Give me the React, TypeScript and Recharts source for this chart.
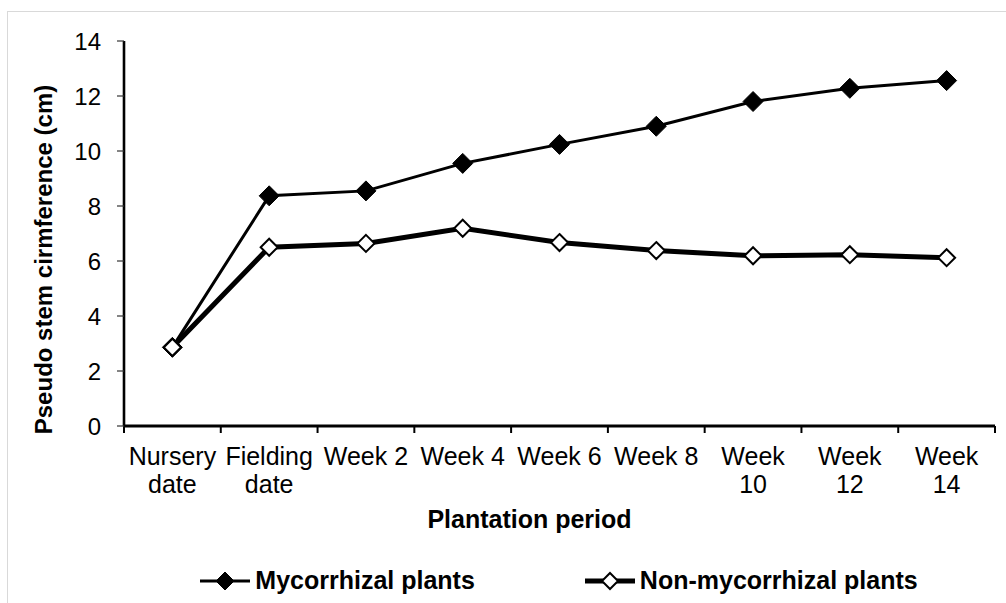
import React from "react";
import { ComposedChart, Line, XAxis, YAxis } from "recharts";

const categories = [
  "Nursery\ndate",
  "Fielding\ndate",
  "Week 2",
  "Week 4",
  "Week 6",
  "Week 8",
  "Week\n10",
  "Week\n12",
  "Week\n14",
];
const mycorrhizal = [2.86, 8.37, 8.55, 9.55, 10.24, 10.9, 11.8, 12.28, 12.56];
const nonMycorrhizal = [2.86, 6.5, 6.64, 7.19, 6.67, 6.38, 6.19, 6.23, 6.12];
const yTicks = [0, 2, 4, 6, 8, 10, 12, 14];
const seriesNames = ["Mycorrhizal plants", "Non-mycorrhizal plants"];
const xTitle = "Plantation period";
const yTitle = "Pseudo stem cirmference (cm)";

const data = categories.map((label, i) => ({
  label,
  pos: i + 0.5,
  myc: mycorrhizal[i],
  non: nonMycorrhizal[i],
}));
const boundaries = [...categories.map((_, i) => i), categories.length];

const FONT = "'Liberation Sans', Arial, sans-serif";

const diamondPath = (cx: number, cy: number, r: number) =>
  `M${cx},${cy - r}L${cx + r},${cy}L${cx},${cy + r}L${cx - r},${cy}Z`;

const FilledDot = (p: any) => {
  if (p.cx == null || p.cy == null) return <g key={p.index} />;
  return <path key={`f${p.index}`} d={diamondPath(p.cx, p.cy, 10)} fill="#000" stroke="#000" strokeWidth={1} />;
};
const HollowDot = (p: any) => {
  if (p.cx == null || p.cy == null) return <g key={p.index} />;
  return <path key={`h${p.index}`} d={diamondPath(p.cx, p.cy, 8.5)} fill="#fff" stroke="#000" strokeWidth={2} />;
};

const CatTick = (props: any) => {
  const { x, y, payload } = props;
  const lines = String(payload.value).split("\n");
  return (
    <text x={x} y={y} textAnchor="middle" fontSize={25} fontFamily={FONT} fill="#000">
      {lines.map((ln, i) => (
        <tspan key={i} x={x} dy={i === 0 ? 38 : 28}>
          {ln}
        </tspan>
      ))}
    </text>
  );
};

const LegendIcon = ({ filled }: { filled: boolean }) => (
  <svg width={50} height={24} style={{ display: "block" }}>
    <line x1={0} y1={12} x2={50} y2={12} stroke="#000" strokeWidth={filled ? 3 : 5} />
    {filled ? (
      <path d={diamondPath(25, 12, 9)} fill="#000" stroke="#000" />
    ) : (
      <path d={diamondPath(25, 12, 8)} fill="#fff" stroke="#000" strokeWidth={2} />
    )}
  </svg>
);

export default function App() {
  return (
    <div style={{ position: "relative", width: 1006, height: 603, background: "#fff", overflow: "hidden" }}>
      <style>{"body{margin:0;overflow:hidden;}"}</style>
      <div
        style={{
          position: "absolute",
          left: 7,
          top: 11,
          width: 1010,
          height: 600,
          borderTop: "1.5px solid #d9d9d9",
          borderLeft: "1.5px solid #d9d9d9",
          boxSizing: "border-box",
        }}
      />
      <div style={{ position: "absolute", left: 0, top: 0 }}>
        <ComposedChart
          width={1006}
          height={603}
          data={data}
          margin={{ top: 41, right: 11, bottom: 76, left: 0 }}
        >
          <XAxis
            xAxisId="a-num"
            type="number"
            dataKey="pos"
            domain={[0, categories.length]}
            ticks={boundaries}
            interval={0}
            tickFormatter={() => ""}
            height={1}
            stroke="#000"
            strokeWidth={3.2}
            axisLine={{ stroke: "#000", strokeWidth: 3.2 }}
            tickLine={{ stroke: "#000", strokeWidth: 2 }}
            tickSize={7}
            allowDataOverflow
          />
          <XAxis
            xAxisId="b-cat"
            dataKey="label"
            type="category"
            scale="band"
            axisLine={false}
            tickLine={false}
            tickSize={0}
            tickMargin={0}
            height={100}
            interval={0}
            tick={<CatTick />}
            label={{
              content: (lp: any) => {
                const vb = lp.viewBox || {};
                return (
                  <text
                    x={vb.x + vb.width / 2 - 30}
                    y={vb.y + 101}
                    textAnchor="middle"
                    fontSize={25}
                    fontWeight="bold"
                    fontFamily={FONT}
                    fill="#000"
                  >
                    {xTitle}
                  </text>
                );
              },
            }}
          />
          <YAxis
            width={124}
            domain={[0, 14]}
            ticks={yTicks}
            interval={0}
            tickSize={7}
            tickMargin={16}
            stroke="#000"
            strokeWidth={2.6}
            axisLine={{ stroke: "#000", strokeWidth: 2.6 }}
            tickLine={{ stroke: "#333", strokeWidth: 1.2 }}
            tick={{ fill: "#000", fontSize: 24, fontFamily: FONT, strokeWidth: 0, stroke: "none" }}
            label={{
              content: (lp: any) => {
                const vb = lp.viewBox || {};
                const cx = vb.x + 52;
                const cy = vb.y + vb.height / 2 + 26;
                return (
                  <text
                    x={cx}
                    y={cy}
                    transform={`rotate(-90 ${cx} ${cy})`}
                    textAnchor="middle"
                    fontSize={24}
                    fontWeight="bold"
                    fontFamily={FONT}
                    fill="#000"
                  >
                    {yTitle}
                  </text>
                );
              },
            }}
          />
          <Line
            xAxisId="a-num"
            dataKey="myc"
            name={seriesNames[0]}
            stroke="#000"
            strokeWidth={3}
            dot={FilledDot}
            activeDot={false}
            isAnimationActive={false}
          />
          <Line
            xAxisId="a-num"
            dataKey="non"
            name={seriesNames[1]}
            stroke="#000"
            strokeWidth={5}
            dot={HollowDot}
            activeDot={false}
            isAnimationActive={false}
          />
        </ComposedChart>
      </div>
      <div
        style={{
          position: "absolute",
          left: 56,
          top: 566,
          width: 1006,
          display: "flex",
          justifyContent: "center",
          alignItems: "center",
          gap: 110,
          fontFamily: FONT,
          fontWeight: "bold",
          fontSize: 25,
          color: "#000",
        }}
      >
        {seriesNames.map((n, i) => (
          <div key={n} style={{ display: "flex", alignItems: "center", gap: 5 }}>
            <LegendIcon filled={i === 0} />
            <span>{n}</span>
          </div>
        ))}
      </div>
    </div>
  );
}
